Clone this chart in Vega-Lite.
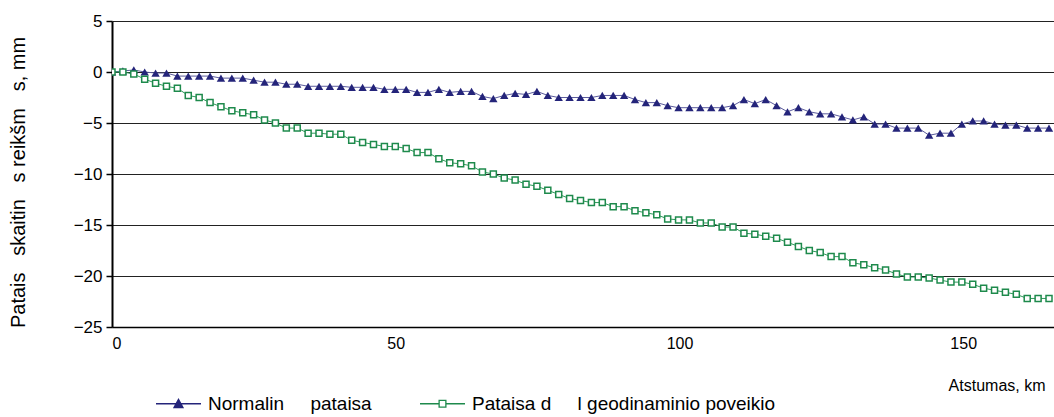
{
  "$schema": "https://vega.github.io/schema/vega-lite/v6.json",
  "width": 942,
  "height": 306,
  "autosize": {"type": "none"},
  "padding": {"left": 112, "top": 21, "right": 0, "bottom": 90},
  "config": {
    "view": {"stroke": null},
    "font": "Liberation Sans",
    "axis": {"labelFont": "Liberation Sans", "titleFont": "Liberation Sans", "labelColor": "#000", "titleColor": "#000", "titleFontWeight": "normal"}
  },
  "data": {"values": [
    {"km": 0, "a": 0.0, "b": 0.0},
    {"km": 1.92, "a": 0.1, "b": 0.0},
    {"km": 3.84, "a": 0.2, "b": -0.2},
    {"km": 5.76, "a": 0.0, "b": -0.7},
    {"km": 7.68, "a": -0.1, "b": -1.1},
    {"km": 9.6, "a": -0.1, "b": -1.4},
    {"km": 11.52, "a": -0.4, "b": -1.6},
    {"km": 13.44, "a": -0.4, "b": -2.3},
    {"km": 15.36, "a": -0.4, "b": -2.5},
    {"km": 17.28, "a": -0.4, "b": -3.0},
    {"km": 19.2, "a": -0.6, "b": -3.4},
    {"km": 21.12, "a": -0.6, "b": -3.8},
    {"km": 23.04, "a": -0.6, "b": -4.0},
    {"km": 24.96, "a": -0.8, "b": -4.2},
    {"km": 26.88, "a": -1.0, "b": -4.7},
    {"km": 28.8, "a": -1.0, "b": -5.0},
    {"km": 30.72, "a": -1.2, "b": -5.5},
    {"km": 32.64, "a": -1.2, "b": -5.5},
    {"km": 34.56, "a": -1.4, "b": -6.0},
    {"km": 36.48, "a": -1.4, "b": -6.0},
    {"km": 38.4, "a": -1.4, "b": -6.1},
    {"km": 40.32, "a": -1.4, "b": -6.1},
    {"km": 42.24, "a": -1.5, "b": -6.7},
    {"km": 44.16, "a": -1.5, "b": -6.9},
    {"km": 46.08, "a": -1.5, "b": -7.1},
    {"km": 48, "a": -1.7, "b": -7.3},
    {"km": 49.92, "a": -1.7, "b": -7.3},
    {"km": 51.84, "a": -1.7, "b": -7.5},
    {"km": 53.76, "a": -2.0, "b": -7.9},
    {"km": 55.68, "a": -2.0, "b": -7.9},
    {"km": 57.6, "a": -1.7, "b": -8.5},
    {"km": 59.52, "a": -2.0, "b": -8.9},
    {"km": 61.44, "a": -1.9, "b": -9.0},
    {"km": 63.36, "a": -1.9, "b": -9.2},
    {"km": 65.28, "a": -2.4, "b": -9.8},
    {"km": 67.2, "a": -2.6, "b": -10.0},
    {"km": 69.12, "a": -2.3, "b": -10.4},
    {"km": 71.04, "a": -2.1, "b": -10.6},
    {"km": 72.96, "a": -2.2, "b": -11.0},
    {"km": 74.88, "a": -1.9, "b": -11.2},
    {"km": 76.8, "a": -2.3, "b": -11.6},
    {"km": 78.72, "a": -2.5, "b": -12.0},
    {"km": 80.64, "a": -2.5, "b": -12.4},
    {"km": 82.56, "a": -2.5, "b": -12.6},
    {"km": 84.48, "a": -2.5, "b": -12.8},
    {"km": 86.4, "a": -2.3, "b": -12.8},
    {"km": 88.32, "a": -2.3, "b": -13.2},
    {"km": 90.24, "a": -2.3, "b": -13.2},
    {"km": 92.16, "a": -2.7, "b": -13.6},
    {"km": 94.08, "a": -3.0, "b": -13.8},
    {"km": 96, "a": -3.0, "b": -14.0},
    {"km": 97.92, "a": -3.3, "b": -14.4},
    {"km": 99.84, "a": -3.5, "b": -14.5},
    {"km": 101.76, "a": -3.5, "b": -14.5},
    {"km": 103.68, "a": -3.5, "b": -14.8},
    {"km": 105.6, "a": -3.5, "b": -14.8},
    {"km": 107.52, "a": -3.5, "b": -15.2},
    {"km": 109.44, "a": -3.3, "b": -15.2},
    {"km": 111.36, "a": -2.7, "b": -15.8},
    {"km": 113.28, "a": -3.1, "b": -15.9},
    {"km": 115.2, "a": -2.7, "b": -16.1},
    {"km": 117.12, "a": -3.3, "b": -16.3},
    {"km": 119.04, "a": -3.9, "b": -16.7},
    {"km": 120.96, "a": -3.5, "b": -17.1},
    {"km": 122.88, "a": -3.9, "b": -17.5},
    {"km": 124.8, "a": -4.1, "b": -17.7},
    {"km": 126.72, "a": -4.1, "b": -18.1},
    {"km": 128.64, "a": -4.4, "b": -18.1},
    {"km": 130.56, "a": -4.7, "b": -18.7},
    {"km": 132.48, "a": -4.4, "b": -18.9},
    {"km": 134.4, "a": -5.1, "b": -19.2},
    {"km": 136.32, "a": -5.1, "b": -19.4},
    {"km": 138.24, "a": -5.5, "b": -19.8},
    {"km": 140.16, "a": -5.5, "b": -20.1},
    {"km": 142.08, "a": -5.5, "b": -20.1},
    {"km": 144, "a": -6.2, "b": -20.2},
    {"km": 145.92, "a": -6.0, "b": -20.4},
    {"km": 147.84, "a": -6.0, "b": -20.6},
    {"km": 149.76, "a": -5.1, "b": -20.6},
    {"km": 151.68, "a": -4.8, "b": -20.8},
    {"km": 153.6, "a": -4.8, "b": -21.2},
    {"km": 155.52, "a": -5.1, "b": -21.4},
    {"km": 157.44, "a": -5.2, "b": -21.6},
    {"km": 159.36, "a": -5.2, "b": -21.8},
    {"km": 161.28, "a": -5.5, "b": -22.2},
    {"km": 163.2, "a": -5.5, "b": -22.2},
    {"km": 165.12, "a": -5.5, "b": -22.2}
  ]},
  "transform": [{"fold": ["a", "b"], "as": ["s", "v"]}],
  "encoding": {
    "x": {
      "field": "km", "type": "quantitative",
      "scale": {"domain": [0, 166], "nice": false, "zero": false},
      "axis": {
        "values": [0, 50, 100, 150], "ticks": false, "grid": false,
        "domainColor": "#000", "domainWidth": 1.5,
        "labelFontSize": 16, "labelPadding": 8,
        "title": "Atstumas, km", "titleFontSize": 16,
        "titleX": 933, "titleY": 58, "titleAlign": "right", "titleBaseline": "middle", "titleAnchor": null
      }
    },
    "y": {
      "field": "v", "type": "quantitative",
      "scale": {"domain": [-25, 5], "nice": false},
      "axis": {
        "values": [-25, -20, -15, -10, -5, 0, 5],
        "grid": true, "gridColor": "#222", "gridWidth": 1,
        "domainColor": "#000", "domainWidth": 2,
        "tickColor": "#000", "tickSize": 6, "tickWidth": 1.5,
        "labelFontSize": 17, "labelPadding": 4,
        "title": "Patais\u00a0\u00a0 skaitin\u00a0\u00a0 s reikšm\u00a0\u00a0 s, mm",
        "titleFontSize": 20,
        "titleX": -94, "titleY": 161, "titleAngle": -90, "titleAlign": "center", "titleBaseline": "middle"
      }
    }
  },
  "layer": [
    {
      "transform": [{"filter": "datum.s === 'a'"}],
      "mark": {"type": "line", "strokeWidth": 1, "color": "#5B5B9C", "clip": true},
      "encoding": {}
    },
    {
      "transform": [{"filter": "datum.s === 'b'"}],
      "mark": {"type": "line", "strokeWidth": 1, "color": "#2E9A5A", "clip": true},
      "encoding": {}
    },
    {
      "transform": [{"filter": "datum.s === 'a'"}],
      "mark": {"type": "point", "shape": "triangle-up", "filled": true, "color": "#24247A", "size": 70, "opacity": 1, "clip": true},
      "encoding": {}
    },
    {
      "transform": [{"filter": "datum.s === 'b'"}],
      "mark": {"type": "point", "shape": "square", "filled": false, "stroke": "#1E8A4C", "fill": "#ffffff", "fillOpacity": 1, "strokeWidth": 1.5, "size": 36, "opacity": 1, "clip": true},
      "encoding": {}
    },
    {
      "mark": {"type": "point", "filled": true, "opacity": 0, "clip": true},
      "encoding": {
        "shape": {
          "field": "s", "type": "nominal",
          "scale": {"domain": ["a", "b"], "range": ["M-1,0H1M-0.2,0.17L0,-0.2L0.2,0.17Z", "M-1,0H-0.15M0.15,0H1M-0.15,-0.15H0.15V0.15H-0.15Z"]},
          "legend": {
            "orient": "none", "legendX": 43, "legendY": 359, "direction": "horizontal",
            "title": null, "columnPadding": 45, "labelFontSize": 19, "labelFont": "Liberation Sans", "labelColor": "#000",
            "labelLimit": 600, "symbolSize": 2025, "labelOffset": 6, "symbolOpacity": 1, "symbolStrokeWidth": 1.3,
            "labelExpr": "datum.value === 'a' ? 'Normalin\u00a0\u00a0\u00a0\u00a0 pataisa' : 'Pataisa d\u00a0\u00a0\u00a0\u00a0 l geodinaminio poveikio'"
          }
        },
        "stroke": {"field": "s", "type": "nominal", "scale": {"domain": ["a", "b"], "range": ["#24247A", "#1E8A4C"]}},
        "fill": {"field": "s", "type": "nominal", "scale": {"domain": ["a", "b"], "range": ["#24247A", "#ffffff"]}}
      }
    }
  ]
}
